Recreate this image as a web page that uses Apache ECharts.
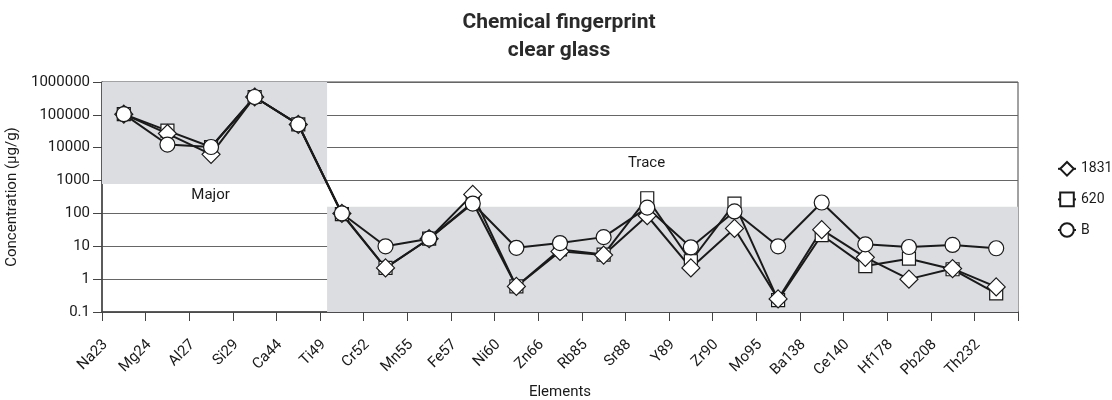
<!DOCTYPE html>
<html>
<head>
<meta charset="utf-8">
<script src="https://cdn.jsdelivr.net/npm/echarts@6/dist/echarts.min.js"></script>
<style>
  html, body { margin: 0; padding: 0; background: #fff; }
  #chart { width: 1112px; height: 400px; }
</style>
</head>
<body>
<div id="chart"></div>
<script>
const elementos = ['Na23','Mg24','Al27','Si29','Ca44','Ti49','Cr52','Mn55','Fe57','Ni60','Zn66','Rb85','Sr88','Y89','Zr90','Mo95','Ba138','Ce140','Hf178','Pb208','Th232']
const serie1831 = [105000, 27000, 6300, 350000, 51000, 100, 2.2, 17, 380, 0.6, 7, 5.4, 85, 2.2, 35, 0.25, 32, 4.6, 1.0, 2.1, 0.58]
const serie620 = [105000, 33000, 10500, 350000, 51000, 95, 2.2, 17, 220, 0.6, 8, 5.6, 290, 3.5, 200, 0.23, 22, 2.5, 4.2, 2.0, 0.37]
const serieB = [105000, 12500, 10500, 350000, 51000, 100, 10, 17, 200, 9, 12.5, 19, 150, 9.3, 115, 10, 215, 11.5, 9.5, 11, 8.7]
const yTicks = ['0.1','1','10','100','1000','10000','100000','1000000']

const fuente = "Roboto, 'Liberation Sans', sans-serif"

const chart = echarts.init(document.getElementById('chart'))

const linea = (nombre, datos, simbolo, tam) => ({
  name: nombre,
  type: 'line',
  data: datos,
  symbol: simbolo,
  symbolSize: tam,
  showAllSymbol: true,
  lineStyle: { color: '#1a1a1a', width: 2 },
  itemStyle: { color: '#fff', borderColor: '#1a1a1a', borderWidth: 1.2 },
  emphasis: { disabled: true },
  animation: false
})

chart.setOption({
  animation: false,
  title: {
    text: 'Chemical fingerprint\nclear glass',
    left: 554,
    textAlign: 'center',
    top: 4,
    textStyle: { fontFamily: fuente, fontSize: 21, fontWeight: 'bold', color: '#2a2a2a', lineHeight: 28 }
  },
  legend: {
    orient: 'vertical',
    left: 1052,
    top: 156,
    itemGap: 15,
    itemWidth: 18,
    itemHeight: 17,
    data: ['1831', '620', 'B'],
    textStyle: { fontFamily: fuente, fontSize: 14, color: '#1a1a1a' }
  },
  grid: {
    left: 102, right: 94, top: 82, bottom: 88,
    outerBoundsMode: 'none',
    show: true, borderColor: '#444', borderWidth: 1, backgroundColor: 'transparent'
  },
  xAxis: [{
    type: 'category',
    data: elementos,
    boundaryGap: true,
    name: 'Elements',
    nameLocation: 'middle',
    nameGap: 70,
    nameTextStyle: { fontFamily: fuente, fontSize: 15, color: '#1a1a1a' },
    axisLine: { lineStyle: { color: '#444', width: 1.5 } },
    axisTick: { show: true, alignWithLabel: false, length: 9, lineStyle: { color: '#444' } },
    axisLabel: {
      rotate: 45, interval: 0, margin: 12, padding: [0, 26, 0, 0],
      fontFamily: fuente, fontSize: 15, color: '#1a1a1a'
    }
  }, {
    type: 'value',
    min: 0, max: 21,
    show: false
  }],
  yAxis: {
    type: 'log',
    logBase: 10,
    min: 0.1,
    max: 1000000,
    name: 'Concentration (µg/g)',
    nameLocation: 'middle',
    nameGap: 76,
    nameTextStyle: { fontFamily: fuente, fontSize: 15, color: '#1a1a1a' },
    axisLine: { show: true, lineStyle: { color: '#444', width: 1.5 } },
    axisTick: { show: true, length: 9, lineStyle: { color: '#444' } },
    axisLabel: {
      fontFamily: fuente, fontSize: 15, color: '#1a1a1a', margin: 12,
      formatter: v => yTicks[Math.round(Math.log10(v)) + 1]
    },
    splitLine: { show: true, lineStyle: { color: '#666', width: 1 } }
  },
  series: [
    {
      type: 'line',
      xAxisIndex: 1,
      data: [],
      silent: true,
      markArea: {
        silent: true,
        itemStyle: { color: '#dcdde0' },
        label: { fontFamily: fuente, fontSize: 15, color: '#1a1a1a' },
        data: [
          [{ coord: [0, 780], name: 'Major', label: { position: 'bottom', distance: 4, offset: [-4, 0] } },
           { coord: [5.16, 1000000] }],
          [{ coord: [5.16, 0.1], name: 'Trace', label: { position: 'top', distance: 36, offset: [-26, 0] } },
           { coord: [21, 160] }]
        ]
      }
    },
    linea('620', serie620, 'rect', 13),
    linea('1831', serie1831, 'diamond', 18),
    linea('B', serieB, 'circle', 15)
  ]
})
</script>
</body>
</html>
